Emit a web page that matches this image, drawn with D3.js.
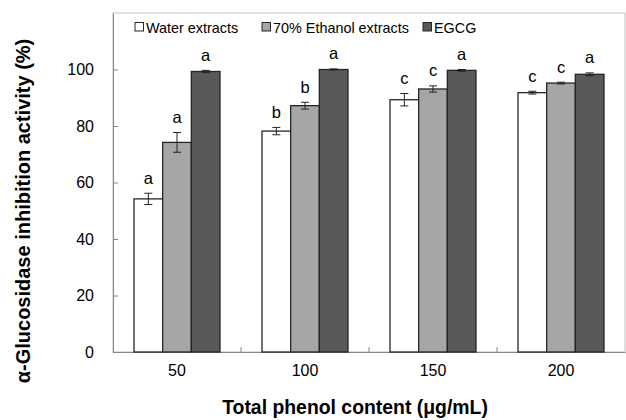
<!DOCTYPE html>
<html>
<head>
<meta charset="utf-8">
<script src="https://cdn.jsdelivr.net/npm/d3@7"></script>
<style>
  body { margin: 0; background: #fff; }
  svg { font-family: "Liberation Sans", Arial, sans-serif; }
</style>
</head>
<body>
<svg id="chart" width="626" height="420"></svg>
<script>
const categories = ['50', '100', '150', '200'];
const seriesNames = ['Water extracts', '70% Ethanol extracts', 'EGCG'];
const waterValues = [54.2, 78.2, 89.3, 91.8];
const waterErrors = [2.0, 1.3, 2.2, 0.5];
const ethanolValues = [74.2, 87.2, 93.1, 95.2];
const ethanolErrors = [3.5, 1.2, 1.1, 0.3];
const egcgValues = [99.3, 100, 99.7, 98.3];
const egcgErrors = [0.4, 0.2, 0.3, 0.5];
const waterLetters = ['a', 'b', 'c', 'c'];
const ethanolLetters = ['a', 'b', 'c', 'c'];
const egcgLetters = ['a', 'a', 'a', 'a'];
const yTicks = [0, 20, 40, 60, 80, 100];

const colors = ['#ffffff', '#a6a6a6', '#595959'];

const svg = d3.select('#chart');
const plotLeft = 113, plotRight = 625, plotTop = 13, plotBottom = 352;

const series = [
    { name: seriesNames[0], values: waterValues, errors: waterErrors, letters: waterLetters },
    { name: seriesNames[1], values: ethanolValues, errors: ethanolErrors, letters: ethanolLetters },
    { name: seriesNames[2], values: egcgValues, errors: egcgErrors, letters: egcgLetters }
];

const x = d3.scaleBand().domain(categories).range([plotLeft, plotRight]);
const xInner = d3.scaleBand().domain(d3.range(series.length))
    .range([21, 107]);
const y = d3.scaleLinear().domain([0, 120]).range([plotBottom, plotTop]);

// plot area border
svg.append('rect')
    .attr('x', plotLeft).attr('y', plotTop)
    .attr('width', plotRight - plotLeft).attr('height', plotBottom - plotTop)
    .attr('fill', 'none').attr('stroke', '#bfbfbf').attr('stroke-width', 1);

// y axis
const yAxis = svg.append('g')
    .attr('transform', `translate(${plotLeft},0)`)
    .call(d3.axisLeft(y).tickValues(yTicks).tickSizeInner(-5).tickSizeOuter(0).tickPadding(19));
yAxis.select('.domain').attr('stroke', '#868686');
yAxis.selectAll('.tick line').attr('stroke', '#868686');
yAxis.selectAll('text').attr('font-size', 16).attr('fill', '#000');

// x axis
const xAxis = svg.append('g')
    .attr('transform', `translate(0,${plotBottom})`)
    .call(d3.axisBottom(x).tickSize(0).tickPadding(13));
xAxis.select('.domain').attr('stroke', '#868686');
xAxis.selectAll('text').attr('font-size', 16).attr('fill', '#000');

// category separators on x axis
svg.selectAll('.sep')
    .data(categories.slice(1))
    .enter().append('line')
    .attr('x1', d => x(d)).attr('x2', d => x(d))
    .attr('y1', plotBottom).attr('y2', plotBottom - 5)
    .attr('stroke', '#868686');

// bars
series.forEach((s, i) => {
    const g = svg.append('g');
    g.selectAll('rect')
        .data(s.values)
        .enter().append('rect')
        .attr('x', (d, j) => x(categories[j]) + xInner(i))
        .attr('y', d => y(d))
        .attr('width', xInner.bandwidth())
        .attr('height', d => y(0) - y(d))
        .attr('fill', colors[i])
        .attr('stroke', '#262626')
        .attr('stroke-width', 1.3);

    const cx = j => x(categories[j]) + xInner(i) + xInner.bandwidth() / 2;

    // error bars and letters
    s.values.forEach((v, j) => {
        const e = s.errors[j];
        const eg = g.append('g').attr('stroke', '#222').attr('stroke-width', 1);
        eg.append('line').attr('x1', cx(j)).attr('x2', cx(j)).attr('y1', y(v + e)).attr('y2', y(v - e));
        eg.append('line').attr('x1', cx(j) - 4).attr('x2', cx(j) + 4).attr('y1', y(v + e)).attr('y2', y(v + e));
        eg.append('line').attr('x1', cx(j) - 4).attr('x2', cx(j) + 4).attr('y1', y(v - e)).attr('y2', y(v - e));

        g.append('text')
            .attr('x', cx(j))
            .attr('y', y(v + e) - 9.5)
            .attr('text-anchor', 'middle')
            .attr('font-size', 16.5)
            .text(s.letters[j]);
    });
});

// legend
const legendX = [135, 262, 423];
series.forEach((s, i) => {
    const lg = svg.append('g').attr('transform', `translate(${legendX[i]},27)`);
    lg.append('rect')
        .attr('x', 0).attr('y', -4.5)
        .attr('width', 8.5).attr('height', 8.5)
        .attr('fill', colors[i])
        .attr('stroke', '#262626').attr('stroke-width', 1);
    lg.append('text')
        .attr('x', 11).attr('y', 5.5)
        .attr('font-size', 14.4)
        .text(s.name);
});

// axis titles
svg.append('text')
    .attr('x', 355).attr('y', 414)
    .attr('text-anchor', 'middle')
    .attr('font-size', 19.4).attr('font-weight', 'bold')
    .text('Total phenol content (μg/mL)');

svg.append('text')
    .attr('transform', 'translate(30,211) rotate(-90)')
    .attr('text-anchor', 'middle')
    .attr('font-size', 20).attr('font-weight', 'bold')
    .text('α-Glucosidase inhibition activity (%)');
</script>
</body>
</html>
